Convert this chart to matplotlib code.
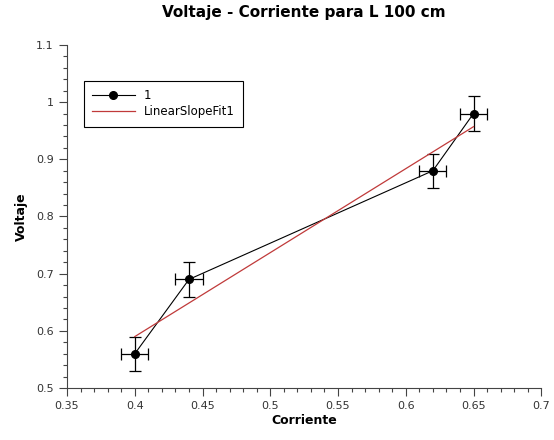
import matplotlib
matplotlib.use("Agg")
import matplotlib.pyplot as plt
from matplotlib.ticker import MultipleLocator

# data
corriente = [0.40, 0.44, 0.62, 0.65]
voltaje = [0.56, 0.69, 0.88, 0.98]
err_x = [0.01, 0.01, 0.01, 0.01]
err_y = [0.03, 0.03, 0.03, 0.03]

fit_x = [0.40, 0.65]
fit_y = [0.590, 0.957]

plt.rcParams["font.family"] = ["DejaVu Sans"]

fig = plt.figure(figsize=(5.54, 4.40), dpi=100)
ax = fig.add_axes([0.121, 0.118, 0.856, 0.780])

# error bars first, then the line+marker so the legend shows a plain handle
ax.errorbar(corriente, voltaje, xerr=err_x, yerr=err_y, fmt="none",
            ecolor="black", elinewidth=0.9, capsize=4, capthick=0.9)
ax.plot(corriente, voltaje, color="black", lw=0.8, marker="o",
        markersize=5.5, label="1")
ax.plot(fit_x, fit_y, color="#c03a3a", lw=0.9, label="LinearSlopeFit1")

ax.set_xlim(0.35, 0.70)
ax.set_ylim(0.5, 1.1)
ax.xaxis.set_major_locator(MultipleLocator(0.05))
ax.xaxis.set_minor_locator(MultipleLocator(0.01))
ax.yaxis.set_major_locator(MultipleLocator(0.1))
ax.yaxis.set_minor_locator(MultipleLocator(0.02))
ax.xaxis.set_major_formatter(plt.FuncFormatter(lambda v, p: f"{v:g}"))
ax.yaxis.set_major_formatter(plt.FuncFormatter(lambda v, p: f"{v:g}"))

for s in ["top", "right"]:
    ax.spines[s].set_visible(False)
for s in ["left", "bottom"]:
    ax.spines[s].set_color("#444444")
ax.tick_params(which="major", length=6, width=0.8, labelsize=8, colors="#444444",
               labelcolor="#333333")
ax.tick_params(which="minor", length=3, width=0.8, colors="#444444")

ax.set_xlabel("Corriente", fontsize=9, fontweight="bold", labelpad=2)
ax.set_ylabel("Voltaje", fontsize=9, fontweight="bold", labelpad=6)
ax.set_title("Voltaje - Corriente para L 100 cm", fontsize=11,
             fontweight="bold", pad=20)

leg = ax.legend(loc="upper left", bbox_to_anchor=(0.023, 0.913), fontsize=8.5,
                fancybox=False, framealpha=1, edgecolor="black",
                borderpad=0.7, handlelength=3.6, labelspacing=0.3)
leg.get_frame().set_linewidth(0.8)

fig.savefig("out.png", dpi=100)
